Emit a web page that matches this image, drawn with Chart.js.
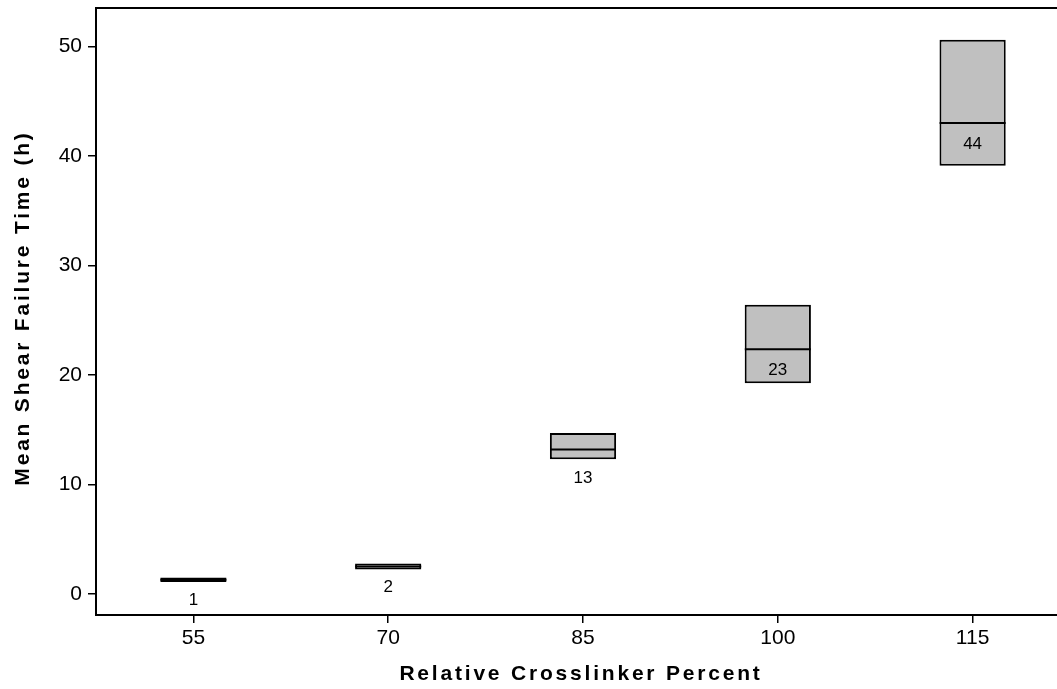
<!DOCTYPE html>
<html>
<head>
<meta charset="utf-8">
<script src="https://cdn.jsdelivr.net/npm/chart.js@4/dist/chart.umd.min.js"></script>
<style>
html, body { margin: 0; padding: 0; background: #fff; overflow: hidden; }
#wrap { width: 1075px; height: 689px; }
</style>
</head>
<body>
<div id="wrap"><canvas id="box-chart" width="1075" height="689"></canvas></div>
<script>
// crosslinker percent groups
const categories = ['55', '70', '85', '100', '115'];
// box edges (lower / upper) and medians, hours
const boxLow = [1.1, 2.23, 12.3, 19.25, 39.1];
const boxHigh = [1.5, 2.78, 14.7, 26.4, 50.6];
const medians = [1.3, 2.5, 13.2, 22.35, 43.0];
// mean labels shown under the median
const means = [1, 2, 13, 23, 44];
const yTicks = [0, 10, 20, 30, 40, 50];

const ctx = document.getElementById('box-chart').getContext('2d');
const fontName = '"Liberation Sans", Arial, sans-serif';

// frame top + right and the mean labels
const extras = {
    id: 'extras',
    afterDatasetsDraw(chart) {
        const c = chart.ctx;
        const x = chart.scales.x;
        const y = chart.scales.y;
        c.save();
        c.fillStyle = '#000';
        c.font = '17px ' + fontName;
        c.textAlign = 'center';
        c.textBaseline = 'middle';
        for (let i = 0; i < means.length; i++) {
            let px = x.getPixelForValue(i);
            let yMed = y.getPixelForValue(medians[i]);
            let yBot = y.getPixelForValue(boxLow[i]);
            let ly = yMed + 21;
            if (ly - 10 < yBot + 2 && ly + 10 > yBot - 2) ly = yBot + 19;
            c.fillText(String(means[i]), px, ly);
        }
        c.restore();
    },
    afterDraw(chart) {
        const a = chart.chartArea;
        const c = chart.ctx;
        c.save();
        c.strokeStyle = '#000';
        c.lineWidth = 2;
        c.beginPath();
        c.moveTo(a.left, a.top);
        c.lineTo(a.right, a.top);
        c.lineTo(a.right, a.bottom);
        c.stroke();

        // axis titles, spaced out like the original
        c.fillStyle = '#000';
        c.font = 'bold 21px ' + fontName;
        c.letterSpacing = '2.8px';
        c.textAlign = 'center';
        c.textBaseline = 'middle';
        c.fillText('Relative Crosslinker Percent', 581, 674);
        c.translate(23, 308);
        c.rotate(-Math.PI / 2);
        c.fillText('Mean Shear Failure Time (h)', 0, 0);
        c.restore();
    }
};

let boxChart = new Chart(ctx, {
    type: 'bar',
    data: {
        labels: categories,
        datasets: [{
            type: 'line',
            data: medians,
            showLine: false,
            pointStyle: 'line',
            pointRadius: 33,
            pointHoverRadius: 33,
            pointBorderWidth: 2,
            borderColor: '#000',
            order: 0
        }, {
            data: categories.map((c, i) => [boxLow[i], boxHigh[i]]),
            backgroundColor: '#c0c0c0',
            borderColor: '#000',
            borderWidth: 2,
            borderSkipped: false,
            barPercentage: 0.34,
            categoryPercentage: 1,
            order: 1
        }]
    },
    options: {
        responsive: false,
        animation: false,
        devicePixelRatio: 1,
        layout: { autoPadding: false, padding: { top: 8, right: 5, left: 0, bottom: 0 } },
        plugins: { legend: { display: false }, tooltip: { enabled: false } },
        scales: {
            x: {
                offset: true,
                grid: { display: true, offset: false, drawOnChartArea: false, drawTicks: true, tickLength: 8, color: '#000', lineWidth: 1.5 },
                border: { color: '#000', width: 2 },
                ticks: { color: '#000', font: { family: fontName, size: 21 }, padding: 3 },
                afterFit(scale) {
                    scale.height = 74;
                    scale.paddingLeft = 0;
                    scale.paddingRight = 0;
                }
            },
            y: {
                min: -1.92,
                max: 53.5,
                grid: { display: true, drawOnChartArea: false, drawTicks: true, tickLength: 8, color: '#000', lineWidth: 1.5 },
                border: { color: '#000', width: 2 },
                ticks: { color: '#000', font: { family: fontName, size: 21 }, padding: 6 },
                afterBuildTicks(scale) { scale.ticks = yTicks.map(v => ({ value: v })); },
                afterFit(scale) {
                    scale.width = 96;
                    scale.paddingTop = 0;
                    scale.paddingBottom = 0;
                }
            }
        }
    },
    plugins: [extras]
});
</script>
</body>
</html>
